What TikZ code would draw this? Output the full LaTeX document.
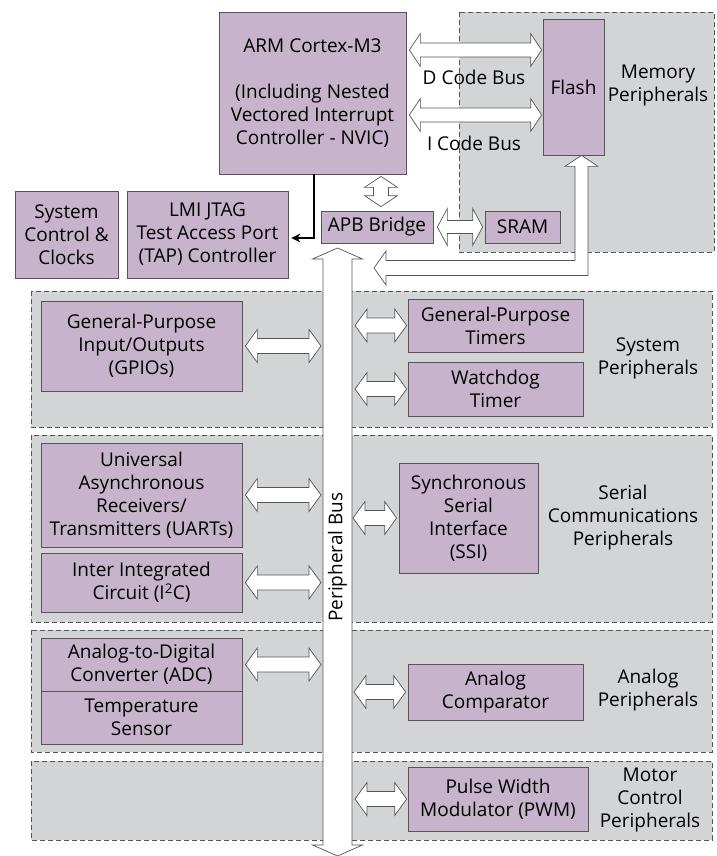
\documentclass[tikz,border=0pt]{standalone}
\usepackage{fontspec}
\setmainfont{Open Sans}
\usetikzlibrary{arrows.meta, positioning, calc}
\definecolor{blockpurple}{RGB}{199,179,203}
\definecolor{groupgray}{RGB}{211,212,214}
\definecolor{edgegray}{RGB}{85,85,85}
\newcommand{\boxfont}{\fontsize{19pt}{23pt}\selectfont}

\tikzset{
  tip len/.store in=\busTipLen, tip half/.store in=\busTipHalf, stem half/.store in=\busStemHalf,
  tip len=12pt, tip half=16.5pt, stem half=7.5pt,
  % hollow double arrow, left to right
  hbus/.style={to path={let \p1=(\tikztostart), \p2=(\tikztotarget) in
    (\x1,\y1) -- (\x1+\busTipLen,\y1+\busTipHalf) -- (\x1+\busTipLen,\y1+\busStemHalf)
    -- (\x2-\busTipLen,\y1+\busStemHalf) -- (\x2-\busTipLen,\y1+\busTipHalf) -- (\x2,\y1)
    -- (\x2-\busTipLen,\y1-\busTipHalf) -- (\x2-\busTipLen,\y1-\busStemHalf)
    -- (\x1+\busTipLen,\y1-\busStemHalf) -- (\x1+\busTipLen,\y1-\busTipHalf) -- cycle}},
  % hollow double arrow, top to bottom
  vbus/.style={to path={let \p1=(\tikztostart), \p2=(\tikztotarget) in
    (\x1,\y1) -- (\x1+\busTipHalf,\y1-\busTipLen) -- (\x1+\busStemHalf,\y1-\busTipLen)
    -- (\x1+\busStemHalf,\y2+\busTipLen) -- (\x1+\busTipHalf,\y2+\busTipLen) -- (\x1,\y2)
    -- (\x1-\busTipHalf,\y2+\busTipLen) -- (\x1-\busStemHalf,\y2+\busTipLen)
    -- (\x1-\busStemHalf,\y1-\busTipLen) -- (\x1-\busTipHalf,\y1-\busTipLen) -- cycle}},
}

\begin{document}
\begin{tikzpicture}[x=1pt, y=-1pt,
    block/.style={draw=edgegray, fill=blockpurple, line width=0.7pt, align=center, inner sep=0pt, font=\boxfont},
    group/.style={draw=edgegray, dash pattern=on 5pt off 3pt, fill=groupgray, line width=0.6pt},
    grouplabel/.style={align=center, font=\boxfont},
    hollow/.style={draw=edgegray, fill=white, line width=0.7pt, line join=miter},
    ctrl/.style={line width=1.6pt, -{Stealth[length=9pt, width=9pt]}}]
    \useasboundingbox (0,0) rectangle (716,856);

    % Peripheral groups
    \draw[group] (459,12) rectangle (714,252);
    \draw[group] (31,291) rectangle (712,427);
    \draw[group] (31,435) rectangle (712,622);
    \draw[group] (31,630) rectangle (712,752);
    \draw[group] (31,761) rectangle (712,840);

    % Core and memory
    \node[block, minimum width=187pt, minimum height=162pt] (arm) at (312.5,93)
        {ARM Cortex-M3\\[23pt](Including Nested\\Vectored Interrupt\\Controller - NVIC)};
    \node[block, minimum width=61pt, minimum height=136pt] (flash) at (573.5,87) {Flash};
    \node[block, minimum width=112pt, minimum height=32pt] (apb) at (377,227) {APB Bridge};
    \node[block, minimum width=75pt, minimum height=32pt] (sram) at (522.5,227) {SRAM};
    \node[block, minimum width=103pt, minimum height=87pt] (sysctl) at (66.5,234.5) {System\\Control \&\\Clocks};
    \node[block, minimum width=161pt, minimum height=87pt] (jtag) at (207.5,234.5)
        {LMI JTAG\\Test Access Port\\(TAP) Controller};

    \node[grouplabel] (dcode) at (474,77) {D Code Bus};
    \node[grouplabel] (icode) at (474,143) {I Code Bus};
    \node[grouplabel] (memlbl) at (658,86) {Memory\\Peripherals};

    % System peripherals
    \node[block, minimum width=201pt, minimum height=90pt] (gpio) at (141.5,346)
        {General-Purpose\\Input/Outputs\\(GPIOs)};
    \node[block, minimum width=175pt, minimum height=53pt] (gpt) at (495.5,325.5) {General-Purpose\\Timers};
    \node[block, minimum width=175pt, minimum height=54pt] (wdt) at (495.5,389) {Watchdog\\Timer};
    \node[grouplabel] (syslbl) at (648,358) {System\\Peripherals};

    % Serial communications
    \node[block, minimum width=201pt, minimum height=104pt] (uart) at (141.5,495)
        {Universal\\Asynchronous\\Receivers/\\Transmitters (UARTs)};
    \node[block, minimum width=201pt, minimum height=59pt] (i2c) at (141.5,582.5)
        {Inter Integrated\\Circuit (I\textsuperscript{2}C)};
    \node[block, minimum width=139pt, minimum height=110pt] (ssi) at (468.5,518)
        {Synchronous\\Serial\\Interface\\(SSI)};
    \node[grouplabel] (serlbl) at (623,518) {Serial\\Communications\\Peripherals};

    % Analog
    \node[block, minimum width=201pt, minimum height=53pt] (adc) at (141.5,664.5)
        {Analog-to-Digital\\Converter (ADC)};
    \node[block, minimum width=201pt, minimum height=53pt] (temp) at (141.5,717.5) {Temperature\\Sensor};
    \node[block, minimum width=175pt, minimum height=56pt] (acmp) at (495.5,692) {Analog\\Comparator};
    \node[grouplabel] (analbl) at (648,690) {Analog\\Peripherals};

    % Motor control
    \node[block, minimum width=180pt, minimum height=64pt] (pwm) at (498,799) {Pulse Width\\Modulator (PWM)};
    \node[grouplabel] (motlbl) at (650,800) {Motor\\Control\\Peripherals};

    % Peripheral bus
    \coordinate (bustop) at (337.5,248);
    \coordinate (busbot) at (337.5,856);
    \coordinate (busL) at (321,0);
    \coordinate (busR) at (355,0);
    \draw[hollow, tip len=11pt, tip half=25pt, stem half=14.5pt] (bustop) to[vbus] (busbot);
    \node[rotate=90, font=\boxfont] (buslbl) at (337.5,557) {Peripheral Bus};

    % Code buses
    \draw[hollow, tip len=11pt, stem half=7pt] ($(arm.east)+(3pt,43pt)$) to[hbus] ($(arm.east -| flash.west)+(-1pt,43pt)$);
    \draw[hollow, tip len=11pt, stem half=7pt] ($(arm.east)+(3pt,-22pt)$) to[hbus] ($(arm.east -| flash.west)+(-1pt,-22pt)$);
    \coordinate (apbtop) at ($(apb.north)+(4pt,4pt)$);
    \draw[hollow, tip len=11pt, stem half=7.5pt] ($(arm.south -| apbtop)+(0,-2pt)$) to[vbus] (apbtop);
    \draw[hollow, tip len=10pt, tip half=18.5pt, stem half=6.5pt] ([xshift=4pt]apb.east) to[hbus] ([xshift=-2pt]sram.west);

    % Flash to peripheral bus
    \coordinate (flashbus) at (374,268);
    \draw[hollow] let \p1=($(flash.south)+(8pt,0)$), \p2=(flashbus) in
        (\x1,\y1) -- (\x1+16.5pt,\y1-11pt) -- (\x1+6.5pt,\y1-11pt) -- (\x1+6.5pt,\y2-7.5pt)
        -- (\x2+12pt,\y2-7.5pt) -- (\x2+12pt,\y2-17pt) -- (\x2,\y2) -- (\x2+12pt,\y2+17pt)
        -- (\x2+12pt,\y2+7.5pt) -- (\x1-6.5pt,\y2+7.5pt) -- (\x1-6.5pt,\y1-11pt)
        -- (\x1-16.5pt,\y1-11pt) -- cycle;

    % Debug control line
    \draw[ctrl] ([xshift=1.5pt]arm.south) |- ([shift={(3pt,-3.5pt)}]jtag.east);

    % Peripheral links
    \draw[hollow] ([xshift=3pt]gpio.east) to[hbus] (gpio.east -| busL);
    \draw[hollow] ([xshift=3pt]uart.east) to[hbus] (uart.east -| busL);
    \draw[hollow] ([xshift=3pt]i2c.east) to[hbus] (i2c.east -| busL);
    \draw[hollow] ([xshift=3pt]adc.east) to[hbus] (adc.east -| busL);
    \draw[hollow] (busR |- gpt.west) to[hbus] ([xshift=-1pt]gpt.west);
    \draw[hollow] (busR |- wdt.west) to[hbus] ([xshift=-1pt]wdt.west);
    \draw[hollow] ([xshift=-2pt]busR |- ssi.west) to[hbus] ([xshift=-2pt]ssi.west);
    \draw[hollow] ([xshift=-1pt]busR |- acmp.west) to[hbus] ([xshift=-2pt]acmp.west);
    \draw[hollow] (busR |- pwm.west) to[hbus] ([xshift=-1pt]pwm.west);
\end{tikzpicture}
\end{document}
